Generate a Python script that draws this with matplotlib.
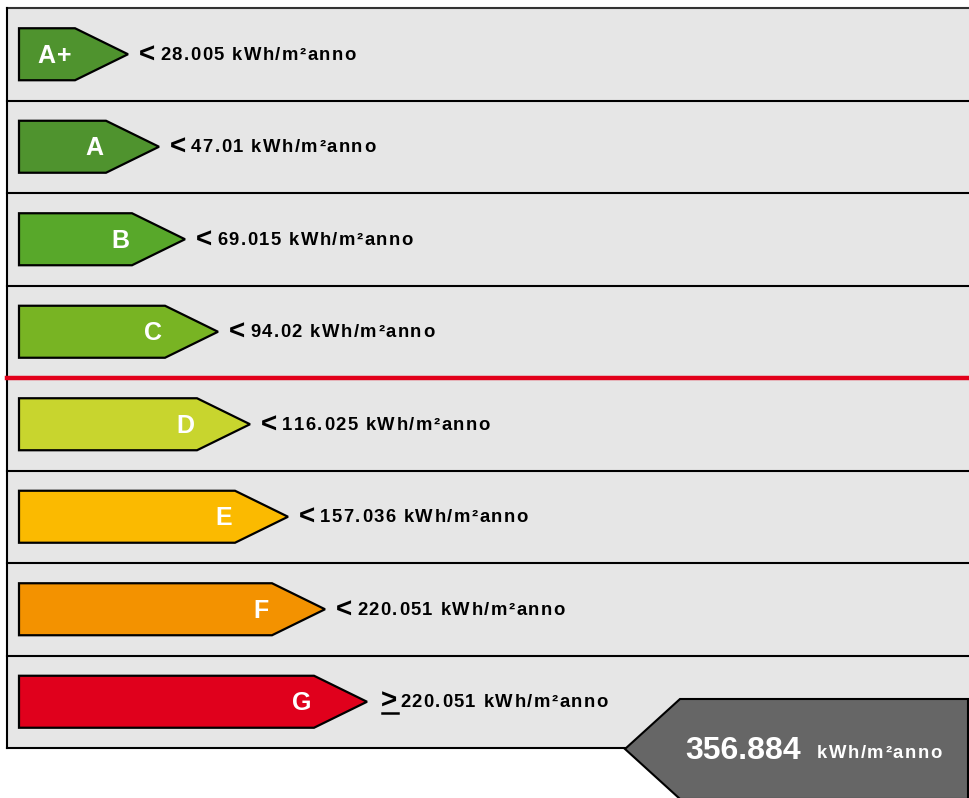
import matplotlib
matplotlib.use("Agg")
import matplotlib.pyplot as plt
from matplotlib.patches import Polygon, Rectangle
from matplotlib import font_manager as fm

# ---- data ----
classes = ["A+", "A", "B", "C", "D", "E", "F", "G"]
thresholds = ["28.005", "47.01", "69.015", "94.02", "116.025", "157.036", "220.051", "220.051"]
symbols = ["<", "<", "<", "<", "<", "<", "<", "≥"]
arrow_tips = [128, 159, 185, 218, 250, 288, 325, 367]   # arrow extent (px scale)
colors = ["#4f932e", "#4f932e", "#58a82a", "#78b423", "#c8d52e",
          "#fbba00", "#f39200", "#e0001c"]
unit = "kWh/m²anno"
building_value = "356.884"

W, H = 970, 798
DPI = 100
fig = plt.figure(figsize=(W / DPI, H / DPI), dpi=DPI)
ax = fig.add_axes([0, 0, 1, 1])
ax.set_xlim(0, W)
ax.set_ylim(H, 0)
ax.axis("off")

FONT = "Liberation Sans"
_prop = fm.FontProperties(family=FONT, weight="bold")
_font = fm.get_font(fm.findfont(_prop))


def advances(s, size):
    _font.set_size(size, DPI)
    out = []
    for c in s:
        g = _font.load_char(ord(c))
        out.append(g.linearHoriAdvance / 65536.0)
    return out


def tracked(x, y, s, size, track, color="black", ha="left", zorder=5):
    adv = advances(s, size)
    total = sum(adv) + track * (len(s) - 1)
    if ha == "right":
        x = x - total
    elif ha == "center":
        x = x - total / 2
    cx = x
    for c, a in zip(s, adv):
        if c != " ":
            ax.text(cx, y, c, color=color, fontsize=size, fontweight="bold",
                    family=[FONT, "DejaVu Sans"], ha="left", va="center_baseline",
                    zorder=zorder)
        cx += a + track
    return cx


top, row_h = 8, 92.5
left = 7
n = len(classes)
bottom = top + n * row_h

# panel background
ax.add_patch(Rectangle((left, top), W + 20 - left, n * row_h, facecolor="#e6e6e6",
                       edgecolor="none", zorder=0))
# borders
ax.plot([left, W + 10], [top, top], color="#333333", lw=1.5, zorder=2)
ax.plot([left, left], [top, bottom], color="black", lw=1.5, zorder=2)
ax.plot([left, W + 10], [bottom, bottom], color="black", lw=1.5, zorder=2)
for i in range(1, n):
    y = top + i * row_h
    if classes[i] == "D":
        ax.plot([left, W + 10], [y, y], color="#e2001a", lw=3.2, zorder=3)
    else:
        ax.plot([left, W + 10], [y, y], color="black", lw=1.5, zorder=2)

half_h = 26
head = 53
x0 = 19
for i, (cls, thr, sym, tip, col) in enumerate(zip(classes, thresholds, symbols, arrow_tips, colors)):
    cy = top + i * row_h + row_h / 2
    rect_end = tip - head
    pts = [(x0, cy - half_h), (rect_end, cy - half_h), (tip, cy),
           (rect_end, cy + half_h), (x0, cy + half_h)]
    ax.add_patch(Polygon(pts, closed=True, facecolor=col, edgecolor="black",
                         lw=1.6, joinstyle="miter", zorder=4))
    tracked(rect_end - 3, cy - 1, cls, 18, 2.0, color="white", ha="right")
    ty = cy
    if sym == "≥":
        ax.text(tip + 14, ty, ">", color="black", fontsize=20, fontweight="bold",
                family=[FONT, "DejaVu Sans"], ha="left", va="center", zorder=5)
        ax.plot([tip + 15, tip + 31], [ty + 11, ty + 11], color="black", lw=1.8, zorder=5)
        tx = tip + 33
    else:
        ax.text(tip + 11, ty + 1, "<", color="black", fontsize=20, fontweight="bold",
                family=[FONT, "DejaVu Sans"], ha="left", va="center", zorder=5)
        tx = tip + 32
    tracked(tx, ty - 1, f"{thr} {unit}", 13.3, 1.45)

# building indicator
ind_cy = bottom + 1
ind_half = 50
ind_tip = 625
ind_head = 55
ind_right = 968
pts = [(ind_tip, ind_cy), (ind_tip + ind_head, ind_cy - ind_half), (ind_right, ind_cy - ind_half),
       (ind_right, ind_cy + ind_half), (ind_tip + ind_head, ind_cy + ind_half)]
ax.add_patch(Polygon(pts, closed=True, facecolor="#666666", edgecolor="black", lw=1.5,
                     joinstyle="miter", zorder=6))
ax.text(685, ind_cy + 2, building_value, color="white", fontsize=23, fontweight="bold",
        family=[FONT, "DejaVu Sans"], ha="left", va="center", zorder=7)
tracked(817, ind_cy + 2, unit, 13.3, 1.5, color="white", zorder=7)

fig.savefig("out.png", dpi=DPI, facecolor="white")
